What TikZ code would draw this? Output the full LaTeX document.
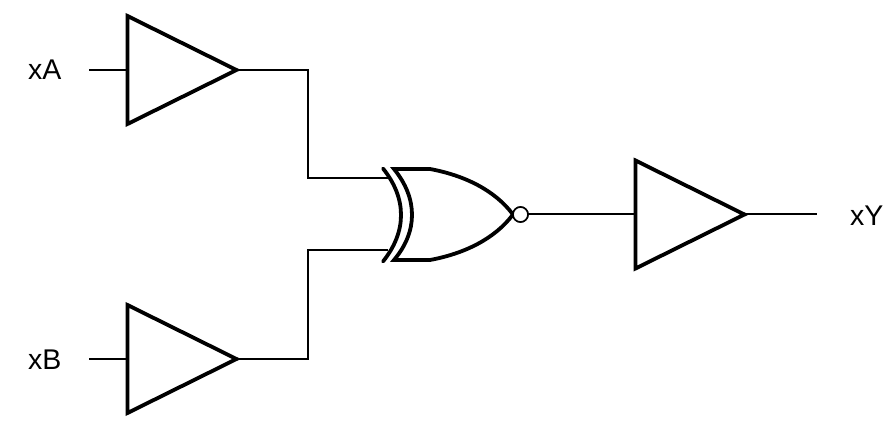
\documentclass[tikz,border=0pt]{standalone}
\usepackage{fontspec}
\setmainfont{Liberation Sans}
\usetikzlibrary{shapes.geometric}
\tikzset{
  buffergate/.style={draw=black,line width=3.8pt,fill=white,isosceles triangle,isosceles triangle stretches,
    minimum width=108pt,minimum height=109pt,inner sep=0pt,outer sep=0pt,anchor=lower side,line join=miter},
  wire/.style={draw=black,line width=2pt,line join=miter},
  gateline/.style={draw=black,line width=3.8pt,line cap=round,line join=miter},
  bubble/.style={circle,draw=black,line width=1.6pt,fill=white,minimum size=15pt,inner sep=0pt,outer sep=0pt},
  sig/.style={font=\fontsize{28.5}{32}\selectfont,inner sep=0pt,text=black}
}
\begin{document}
\begin{tikzpicture}[x=1pt,y=-1pt]
\useasboundingbox (0,0) rectangle (889,438);
\coordinate (inA) at (89,70);
\coordinate (inB) at (89,359);
\coordinate (outY) at (817,214.5);
\coordinate (xorA) at (388,178.5);
\coordinate (xorB) at (388,250.5);
\coordinate (bendA) at (308,178.5);
\coordinate (bendB) at (308,250.5);
\node[buffergate] (bufA) at (127.5,70) {};
\node[buffergate] (bufB) at (127.5,359) {};
\node[buffergate] (bufY) at (635.5,214.5) {};
\node[bubble] (inv) at (520.5,214.5) {};
\draw[wire] (inA) -- (bufA.lower side);
\draw[wire] (inB) -- (bufB.lower side);
\draw[wire] (bufA.apex) -| (bendA) -- (xorA);
\draw[wire] (bufB.apex) -| (bendB) -- (xorB);
\draw[wire] (inv.east) -- (bufY.lower side);
\draw[wire] (bufY.apex) -- (outY);
\draw[gateline] (383,168.5) .. controls (407,198.5) and (407,231.5) .. (383,261.5);
\draw[gateline,fill=white] (394,169) -- (430,169) .. controls (465,175.5) and (495,190.5) .. (513,214.5)
  .. controls (495,238.5) and (465,253.5) .. (430,260) -- (394,260) .. controls (418,231.5) and (418,198.5) .. cycle;
\node[bubble] at (520.5,214.5) {};
\node[sig,anchor=base west] (labA) at (28,80) {xA};
\node[sig,anchor=base west] (labB) at (28,370) {xB};
\node[sig,anchor=base west] (labY) at (850,225.5) {xY};
\end{tikzpicture}
\end{document}
